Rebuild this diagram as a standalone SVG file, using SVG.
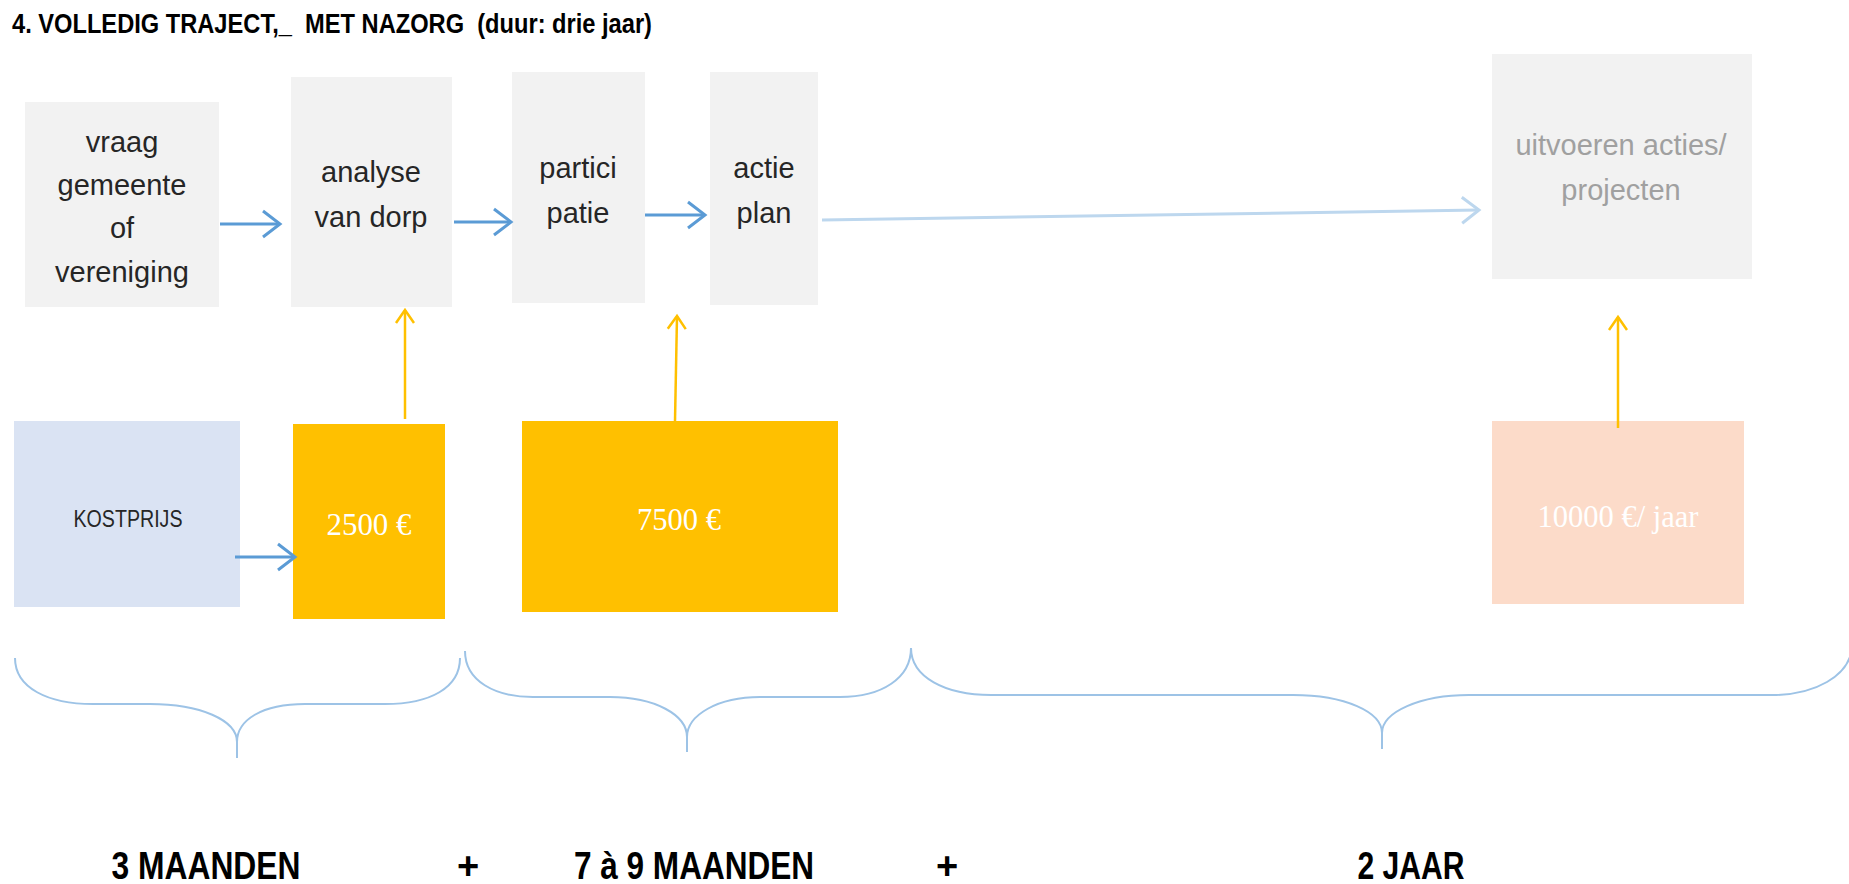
<svg xmlns="http://www.w3.org/2000/svg" width="1849" height="884" viewBox="0 0 1849 884">
<style>
.box{fill:#f2f2f2}
.t{font-family:"Liberation Sans",Arial,sans-serif;font-size:29px;fill:#262626;text-anchor:middle}
.tg{font-family:"Liberation Sans",Arial,sans-serif;font-size:29px;fill:#a0a0a0;text-anchor:middle}
.eur{font-family:"Liberation Serif","Times New Roman",serif;font-size:32px;fill:#ffffff;text-anchor:middle}
.big{font-family:"Liberation Sans",Arial,sans-serif;font-weight:bold;font-size:38px;fill:#000000;text-anchor:middle}
.blue{stroke:#5b9bd5;stroke-width:3;fill:none}
.lblue{stroke:#bdd7ee;stroke-width:3;fill:none}
.org{stroke:#ffc000;stroke-width:2.5;fill:none}
.brace{stroke:#9dc3e6;stroke-width:2;fill:none}
</style>
<defs>
<marker id="ab" markerUnits="userSpaceOnUse" markerWidth="30" markerHeight="30" viewBox="0 0 30 30" refX="20" refY="15" orient="auto"><path d="M3,2 L20,15 L3,28" fill="none" stroke="#5b9bd5" stroke-width="3"/></marker>
<marker id="alb" markerUnits="userSpaceOnUse" markerWidth="30" markerHeight="30" viewBox="0 0 30 30" refX="20" refY="15" orient="auto"><path d="M3,2 L20,15 L3,28" fill="none" stroke="#bdd7ee" stroke-width="3"/></marker>
<marker id="ao" markerUnits="userSpaceOnUse" markerWidth="24" markerHeight="24" viewBox="0 0 24 24" refX="15" refY="12" orient="auto"><path d="M2,3 L15,12 L2,21" fill="none" stroke="#ffc000" stroke-width="2.5"/></marker>
</defs>
<rect width="1849" height="884" fill="#ffffff"/>
<text x="12" y="33" font-family="'Liberation Sans',Arial,sans-serif" font-weight="bold" font-size="27" fill="#000" textLength="640" lengthAdjust="spacingAndGlyphs" xml:space="preserve">4. VOLLEDIG TRAJECT,_  MET NAZORG  (duur: drie jaar)</text>

<g id="node-vraag">
<rect class="box" x="25" y="102" width="194" height="205"/>
<text class="t" x="122" y="152">vraag</text>
<text class="t" x="122" y="195">gemeente</text>
<text class="t" x="122" y="238">of</text>
<text class="t" x="122" y="282">vereniging</text>
</g>
<g id="node-analyse">
<rect class="box" x="291" y="77" width="161" height="230"/>
<text class="t" x="371" y="182">analyse</text>
<text class="t" x="371" y="227">van dorp</text>
</g>
<g id="node-participatie">
<rect class="box" x="512" y="72" width="133" height="231"/>
<text class="t" x="578" y="178">partici</text>
<text class="t" x="578" y="223">patie</text>
</g>
<g id="node-actieplan">
<rect class="box" x="710" y="72" width="108" height="233"/>
<text class="t" x="764" y="178">actie</text>
<text class="t" x="764" y="223">plan</text>
</g>
<g id="node-uitvoeren">
<rect class="box" x="1492" y="54" width="260" height="225"/>
<text class="tg" x="1621" y="155">uitvoeren acties/</text>
<text class="tg" x="1621" y="200">projecten</text>
</g>
<g id="node-kostprijs">
<rect x="14" y="421" width="226" height="186" fill="#dae3f3"/>
<text x="128" y="527" font-family="'Liberation Sans',Arial,sans-serif" font-size="24" fill="#262626" text-anchor="middle" textLength="109" lengthAdjust="spacingAndGlyphs">KOSTPRIJS</text>
</g>
<g id="node-2500">
<rect x="293" y="424" width="152" height="195" fill="#ffc000"/>
<text class="eur" x="369" y="535" textLength="85" lengthAdjust="spacingAndGlyphs">2500 €</text>
</g>
<g id="node-7500">
<rect x="522" y="421" width="316" height="191" fill="#ffc000"/>
<text class="eur" x="679" y="530" textLength="84" lengthAdjust="spacingAndGlyphs">7500 €</text>
</g>
<g id="node-10000">
<rect x="1492" y="421" width="252" height="183" fill="#fcdbc9"/>
<text class="eur" x="1618" y="527" textLength="161" lengthAdjust="spacingAndGlyphs">10000 €/ jaar</text>
</g>

<g id="connectors">
<line class="blue" x1="220" y1="224" x2="280" y2="224" marker-end="url(#ab)"/>
<line class="blue" x1="454" y1="222" x2="511" y2="222" marker-end="url(#ab)"/>
<line class="blue" x1="645" y1="215" x2="705" y2="215" marker-end="url(#ab)"/>
<line class="lblue" x1="822" y1="220" x2="1479" y2="210" marker-end="url(#alb)"/>
<line class="blue" x1="235" y1="557" x2="295" y2="557" marker-end="url(#ab)"/>
<line class="org" x1="405" y1="419" x2="405" y2="310" marker-end="url(#ao)"/>
<line class="org" x1="675" y1="421" x2="677" y2="316" marker-end="url(#ao)"/>
<line class="org" x1="1618" y1="428" x2="1618" y2="317" marker-end="url(#ao)"/>
</g>

<g id="braces">
<path class="brace" d="M15,658 C15,688 48,704 93,704 L150,704 C200,704 237,720 237,742 L237,758 M237,742 C237,720 262,704 305,704 L385,704 C430,704 460,688 460,658"/>
<path class="brace" d="M465,651 C465,681 495,697 533,697 L610,697 C655,697 687,715 687,737 L687,752 M687,737 C687,715 718,697 760,697 L840,697 C882,697 911,678 911,648"/>
<path class="brace" d="M911,648 C911,677 945,695 991,695 L1293,695 C1345,695 1382,712 1382,733 L1382,749 M1382,733 C1382,712 1420,695 1469,695 L1772,695 C1815,695 1849,676 1852,648"/>
</g>

<g id="durations">
<text class="big" x="206" y="879" textLength="189" lengthAdjust="spacingAndGlyphs">3 MAANDEN</text>
<text class="big" x="468" y="879">+</text>
<text class="big" x="694" y="879" textLength="240" lengthAdjust="spacingAndGlyphs">7 à 9 MAANDEN</text>
<text class="big" x="947" y="879">+</text>
<text class="big" x="1411" y="879" textLength="107" lengthAdjust="spacingAndGlyphs">2 JAAR</text>
</g>
</svg>
